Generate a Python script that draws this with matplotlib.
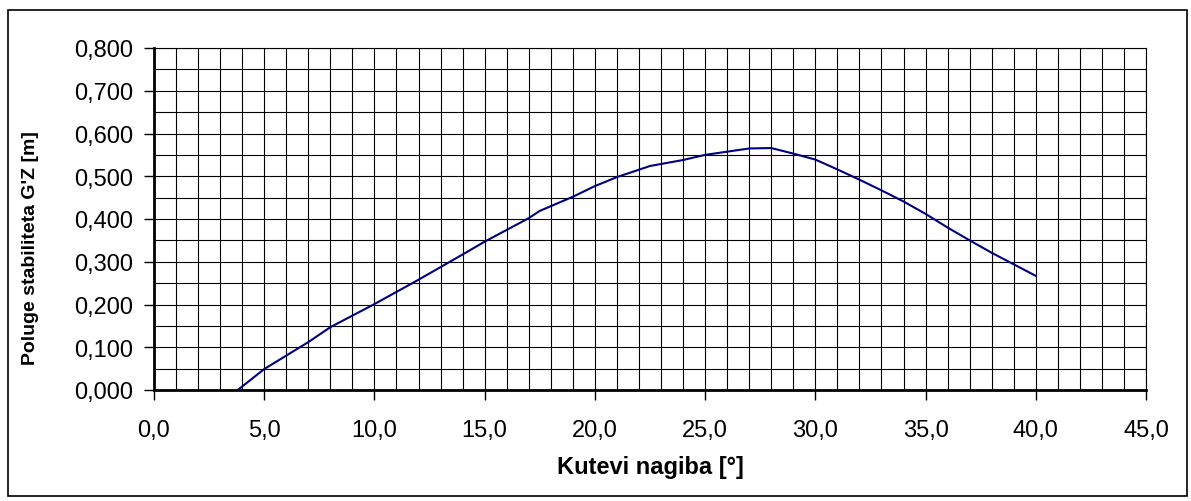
import numpy as np
import matplotlib.pyplot as plt
from matplotlib.ticker import MultipleLocator, FuncFormatter
from matplotlib.patches import Rectangle

plt.rcParams['font.family'] = ['Liberation Sans', 'DejaVu Sans']

# kut nagiba [deg] i poluga stabiliteta G'Z [m]
kut = [3.8, 5, 7, 8, 10, 12, 14, 15, 17, 17.5, 19, 20, 21, 22.5, 24, 25,
       27, 28, 29, 30, 31, 32, 33, 34, 35, 36, 37, 38, 39, 40]
gz = [0.000, 0.049, 0.112, 0.147, 0.201, 0.258, 0.317, 0.347, 0.402, 0.419,
      0.452, 0.477, 0.498, 0.524, 0.538, 0.550, 0.565, 0.566, 0.553, 0.539,
      0.516, 0.492, 0.467, 0.441, 0.412, 0.380, 0.350, 0.321, 0.294, 0.267]

W, H = 1191, 502
fig = plt.figure(figsize=(W / 100, H / 100), dpi=100)
ax = fig.add_axes([154 / W, 1 - 391 / H, (1146 - 154) / W, (391 - 49) / H])

ax.plot(kut, gz, color='#000080', lw=1.5, zorder=3)

ax.set_xlim(0, 45)
ax.set_ylim(0, 0.8)
ax.xaxis.set_major_locator(MultipleLocator(5))
ax.xaxis.set_minor_locator(MultipleLocator(1))
ax.yaxis.set_major_locator(MultipleLocator(0.1))
ax.yaxis.set_minor_locator(MultipleLocator(0.05))
ax.xaxis.set_major_formatter(FuncFormatter(lambda v, p: f"{v:.1f}".replace('.', ',')))
ax.yaxis.set_major_formatter(FuncFormatter(lambda v, p: f"{v:.3f}".replace('.', ',')))

ax.grid(which='both', color='black', lw=0.8)
ax.set_axisbelow(True)
ax.tick_params(which='major', direction='out', length=7, width=1, labelsize=17, color='black')
ax.tick_params(axis='x', pad=14)
ax.tick_params(axis='y', pad=8)
ax.tick_params(which='minor', length=0)

for s in ax.spines.values():
    s.set_linewidth(0.8)
ax.spines['left'].set_linewidth(2)
ax.spines['bottom'].set_linewidth(2)

fig.text(650 / W, 1 - 468 / H, 'Kutevi nagiba [°]', ha='center', va='center',
         fontsize=17, fontweight='bold')
fig.text(31 / W, 1 - 248 / H, "Poluge stabiliteta G'Z [m]", ha='center', va='center',
         rotation=90, fontsize=14, fontweight='bold')

fig.patches.append(Rectangle((8 / W, 1 - 497 / H), (1187 - 8) / W, (497 - 11) / H,
                             transform=fig.transFigure, fill=False, ec='black', lw=1.2))

fig.savefig('out.png', dpi=100)
